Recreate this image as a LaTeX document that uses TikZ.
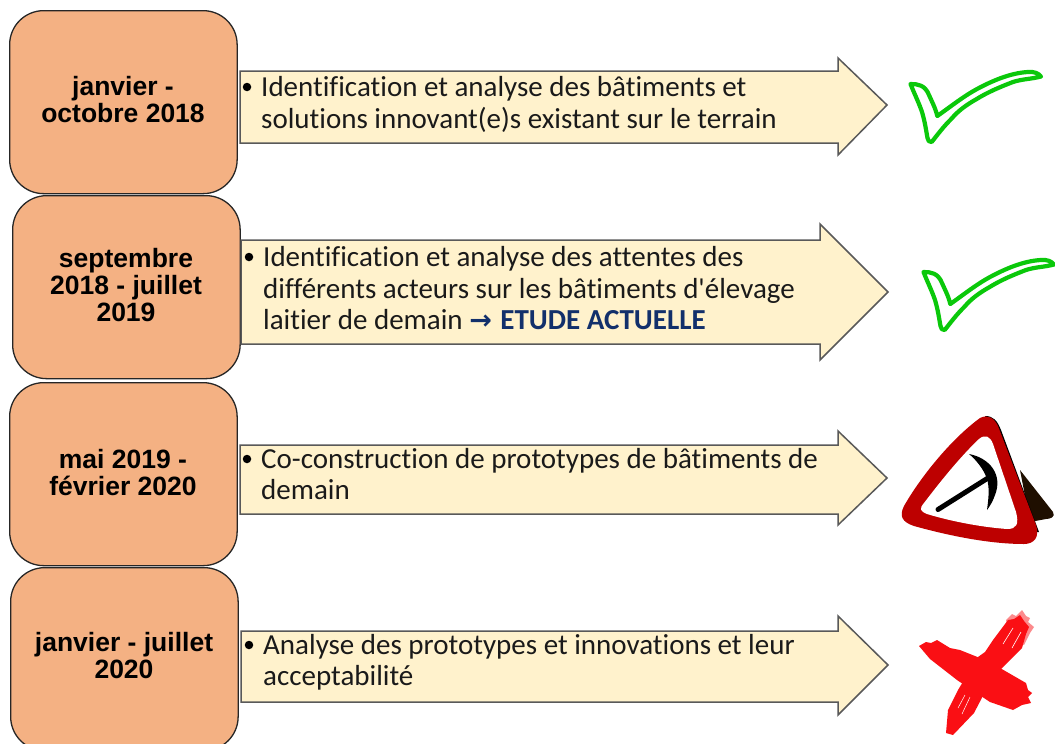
\documentclass[tikz,border=0pt]{standalone}
\usepackage{fontspec}
\newfontfamily\bandfont[Ligatures=NoCommon]{Carlito}
\newfontfamily\boxfont{Liberation Sans}
\newfontfamily\symfont{DejaVu Sans}
\definecolor{boxfill}{HTML}{F4B183}
\definecolor{arrowfill}{HTML}{FFF2CC}
\definecolor{checkgreen}{HTML}{0AC80A}
\definecolor{signred}{HTML}{BD0000}
\definecolor{crossred}{HTML}{FA0F14}
\definecolor{crosspale}{HTML}{FC8A8C}
\definecolor{navytext}{HTML}{12306B}
\definecolor{inktext}{HTML}{1A1A1A}
\tikzset{
  x=1pt,y=-1pt,
  datebox/.style={draw=black!85,line width=1.3pt,fill=boxfill,rounded corners=34pt,minimum width=227.5pt,minimum height=183pt,inner sep=0pt,anchor=north west},
  datetext/.style={font=\boxfont\bfseries\fontsize{26.5}{27}\selectfont,align=center,text=black,inner sep=0pt},
  bandarrow/.style={draw=black!65,line width=1.5pt,fill=arrowfill,line join=miter},
  bandtext/.style={anchor=north west,inner sep=0pt,align=left,text=inktext,font=\bandfont\fontsize{29}{31.5}\selectfont},
  dotmark/.style={circle,fill=black,inner sep=0pt,minimum size=8.5pt},
  checkmark/.style={draw=checkgreen,line width=4.2pt,fill=white,line join=round},
}
\newcommand{\checkshape}{
  (910.5,84) .. controls (918,84) and (925,85) .. (929,95)
  .. controls (932,102) and (935,107) .. (937.3,116)
  .. controls (950,107) and (964,96) .. (977,89)
  .. controls (992,81) and (1010,73) .. (1028,72)
  .. controls (1034,71.5) and (1038,73) .. (1041,76.5)
  .. controls (1032,79) and (1022,79) .. (1013,82)
  .. controls (1000,87) and (988,92) .. (976.7,99)
  .. controls (966,105) and (958,111) .. (951.7,118.5)
  .. controls (944,126) and (938,134) .. (931.7,142)
  .. controls (929,142) and (928,141) .. (927.5,138)
  .. controls (926,130) and (925,122) .. (922,112)
  .. controls (919,103) and (914,93) .. (910.5,84) -- cycle}
\begin{document}
\begin{tikzpicture}
\clip (0,0) rectangle (1055,744);
\fill[white] (0,0) rectangle (1055,744);

% date boxes
\node[datebox] (d1) at (9,10) {};
\node[datetext] (d1t) at (123,99.5) {janvier -\\octobre 2018};
\node[datebox] (d2) at (12,195) {};
\node[datetext] (d2t) at (126,285) {septembre\\2018 - juillet\\2019};
\node[datebox] (d3) at (9,382) {};
\node[datetext] (d3t) at (123,472.5) {mai 2019 -\\février 2020};
\node[datebox] (d4) at (10,567) {};
\node[datetext] (d4t) at (124,656) {janvier - juillet\\2020};

% arrows
\draw[bandarrow] (240,71) -- (838,71) -- (838,58) -- (887,105) -- (838,155) -- (838,143) -- (240,143) -- cycle;
\draw[bandarrow] (241,240) -- (820,240) -- (820,224) -- (888,292) -- (820,360) -- (820,344) -- (241,344) -- cycle;
\draw[bandarrow] (240,445) -- (838,445) -- (838,431) -- (887,478) -- (838,525) -- (838,514) -- (240,514) -- cycle;
\draw[bandarrow] (241,631) -- (838,631) -- (838,616) -- (888,665) -- (838,715) -- (838,702) -- (241,702) -- cycle;

% texts
\node[dotmark] (b1) at (247,87) {};
\node[bandtext] (t1) at (261,76.5) {Identification et analyse des bâtiments et\\solutions innovant(e)s existant sur le terrain};
\node[dotmark] (b2) at (249,257) {};
\node[bandtext] (t2) at (263,246.5) {Identification et analyse des attentes des\\différents acteurs sur les bâtiments d'élevage\\laitier de demain {\color{navytext}\bfseries {\symfont\fontsize{27}{27}\selectfont→}\hspace{2pt} ETUDE ACTUELLE}};
\node[dotmark] (b3) at (247,459) {};
\node[bandtext] (t3) at (261,448) {Co-construction de prototypes de bâtiments de\\demain};
\node[dotmark] (b4) at (249,645) {};
\node[bandtext] (t4) at (263,634) {Analyse des prototypes et innovations et leur\\acceptabilité};

% check marks
\draw[checkmark] \checkshape;
\begin{scope}[shift={(13,188)}]
\draw[checkmark] \checkshape;
\end{scope}

% warning sign
\fill[black!88!orange] (1020,470) -- (1053,512) .. controls (1056,517) and (1050,519) .. (1046,519) -- (1030,522) -- cycle;
\fill[black] (985,416) .. controls (993,416) and (997,420) .. (1001,430) -- (1039,532) -- (1032,532) -- cycle;
\fill[signred] (980,418) .. controls (988,414) and (994,418) .. (998,426)
  -- (1036,525) .. controls (1040,537) and (1034,544) .. (1024,544)
  .. controls (990,544) and (950,536) .. (914,526)
  .. controls (902,522) and (899,516) .. (904,506)
  .. controls (920,478) and (950,440) .. (980,418) -- cycle;
\fill[white] (979,439) .. controls (985,434) and (990,436) .. (993,444)
  -- (1016,512) .. controls (1019,524) and (1017,529) .. (1007,529)
  .. controls (980,527) and (950,521) .. (927,514)
  .. controls (920,511) and (919,509) .. (924,503)
  .. controls (940,482) and (960,457) .. (979,439) -- cycle;
\draw[black,line width=5pt,line cap=round] (938,509.5) -- (988,478);
\fill[black] (969,454) .. controls (990,458) and (1003,475) .. (995,495)
  .. controls (993,501) and (990,506) .. (987,510)
  .. controls (989,495) and (990,484) .. (985,474)
  .. controls (981,466) and (975,459) .. (969,454) -- cycle;

% cross
\fill[crosspale] (1006,620) -- (1012,614) -- (1016,616) -- (1022,610) -- (1026,616) -- (1030,618) -- (1028,622) -- (1034,627) -- (1030,633) -- (1024,645) -- (1010,640) -- cycle;
\fill[crossred] (1008,620) -- (1014,619) -- (1020,615) -- (1024,621) -- (1029,627) -- (1026,634) -- (1022,648) -- (1013,657) -- (999,671) -- (986,690) -- (974,713) -- (953,735) -- (946,733) -- (948,710) -- (958,690) -- (978,657) -- (985,652) -- (993,640) -- cycle;
\fill[crossred] (919,646) -- (926,642) -- (931,643) -- (937,640) -- (950,648) -- (960,650) -- (980,658) -- (1000,668) -- (1026,683) -- (1028,690) -- (1032,693) -- (1028,697) -- (1031,703) -- (1022,705) -- (1013,710) -- (990,702) -- (957,680) -- (930,659) -- cycle;
\draw[white,line width=.6pt] (1013,628) -- (1003,644);
\draw[white,line width=.6pt] (1021,632) -- (1012,648);
\draw[white,line width=.5pt] (965,695) -- (958,708);
\draw[white,line width=.5pt] (970,697) -- (962,714);
\end{tikzpicture}
\end{document}
